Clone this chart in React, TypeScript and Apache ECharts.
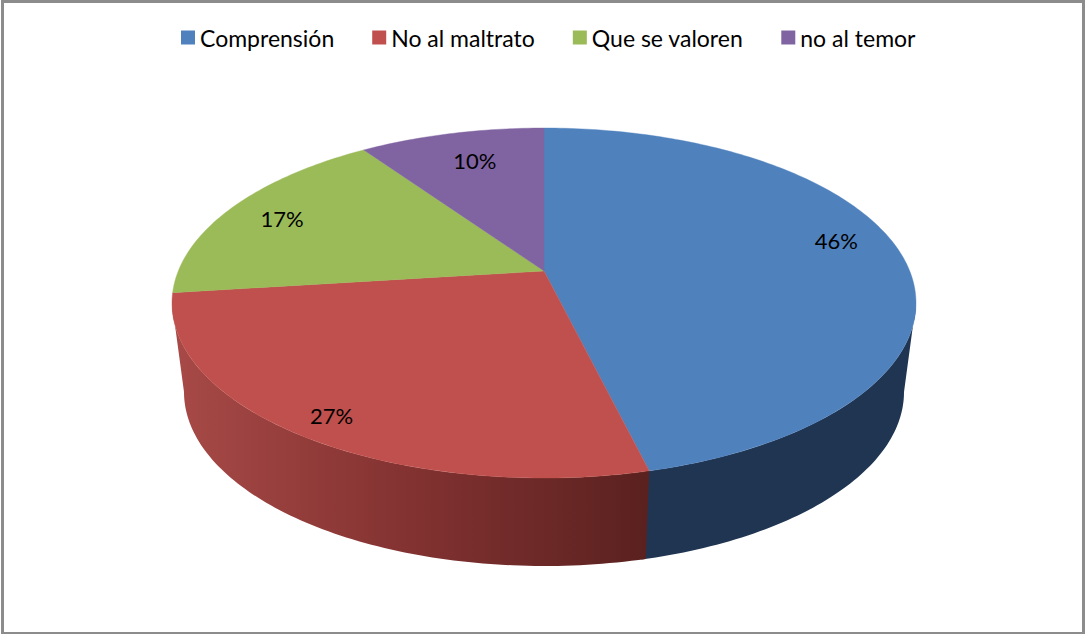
import React, { useEffect, useRef } from "react";
import * as echarts from "echarts";

const categories = ["Comprensión", "No al maltrato", "Que se valoren", "no al temor"];
const percents = [46.2, 26.8, 17.4, 9.6];
const colors = ["#4F81BD", "#C0504D", "#9BBB59", "#8064A2"];

// Layout of the tilted disc (pixels of the 1085x634 page)
const TOP = { cx: 544, cy: 303, rx: 372, ry: 175 };
const BOTTOM = { cx: 544, cy: 392, rx: 360, ry: 174 };
const APEX_SHIFT = 0.183; // perspective: how far the disc centre sits up inside the ellipse
// label placement per slice: fraction of the radius, angle shift in degrees
const LABEL_RADIUS = [0.847, 0.894, 0.828, 0.775];
const LABEL_SHIFT = [-5.8, -0.4, -0.6, 1.2];

const wallFills = [
  "#1F3552",
  new echarts.graphic.LinearGradient(0, 0, 1, 0, [
    { offset: 0, color: "#A84A47" },
    { offset: 0.5, color: "#823231" },
    { offset: 1, color: "#5A211F" },
  ]),
];

const rad = (d: number) => (d * Math.PI) / 180;

function project(r: number, deg: number) {
  const x = r * Math.sin(rad(deg));
  const y = r * Math.cos(rad(deg));
  const a = APEX_SHIFT;
  const d = 1 + a * y;
  return [(x * Math.sqrt(1 - a * a)) / d, (y + a) / d];
}

function place(e: typeof TOP, p: number[]) {
  return [e.cx + e.rx * p[0], e.cy - e.ry * p[1]];
}

function arc(r: number, from: number, to: number) {
  const steps = Math.max(2, Math.ceil(Math.abs(to - from) / 1));
  const out: number[][] = [];
  for (let i = 0; i <= steps; i++) out.push(project(r, from + ((to - from) * i) / steps));
  return out;
}

const total = percents.reduce((a, b) => a + b, 0);
const starts = percents.map((_, i) => percents.slice(0, i).reduce((a, b) => a + b, 0));

function renderSlice(params: any, api: any) {
  const i = params.seriesIndex;
  const value = api.value(0);
  const start = api.value(1);
  const from = (start / total) * 360;
  const to = ((start + value) / total) * 360;
  const children: any[] = [];

  // visible side wall: only the front half of the rim
  const limit = (Math.acos(-APEX_SHIFT) * 180) / Math.PI;
  const wallFrom = Math.max(from, limit);
  const wallTo = Math.min(to + (i === 0 ? 0.6 : 0), 360 - limit);
  if (wallTo > wallFrom) {
    const rim = arc(1, wallFrom, wallTo);
    const pts = [...rim.map((p) => place(TOP, p)), ...rim.slice().reverse().map((p) => place(BOTTOM, p))];
    children.push({
      type: "polygon",
      shape: { points: pts },
      style: { fill: wallFills[i] },
      silent: true,
    });
  }

  // top face
  const top = [place(TOP, project(0, 0)), ...arc(1, from, to).map((p) => place(TOP, p))];
  children.push({
    type: "polygon",
    shape: { points: top },
    style: { fill: colors[i], stroke: colors[i], lineWidth: 0.4 },
    silent: true,
  });

  // percentage label
  const mid = (from + to) / 2 + LABEL_SHIFT[i];
  const lp = place(TOP, project(LABEL_RADIUS[i], mid));
  children.push({
    type: "text",
    x: lp[0],
    y: lp[1],
    z2: 10,
    style: {
      text: `${Math.round((value / total) * 100)}%`,
      fill: "#000000",
      font: '22px Lato, "Open Sans", sans-serif',
      align: "center",
      verticalAlign: "middle",
    },
    silent: true,
  });
  return { type: "group", children };
}

export default function App() {
  const ref = useRef<HTMLDivElement>(null);
  useEffect(() => {
    const chart = echarts.init(ref.current!, undefined, { renderer: "svg" });
    chart.setOption({
      animation: false,
      backgroundColor: "#FFFFFF",
      legend: {
        data: categories,
        left: 181,
        top: 26,
        padding: 0,
        itemWidth: 14,
        itemHeight: 14,
        itemGap: 38,
        icon: "rect",
        textStyle: { color: "#000000", fontFamily: "Lato, sans-serif", fontSize: 23, padding: [0, 0, 2, 0] },
        selectedMode: false,
      },
      graphic: [
        {
          type: "rect",
          shape: { x: 2.5, y: 1.5, width: 1081, height: 632 },
          style: { fill: "none", stroke: "#8C8C8C", lineWidth: 3 },
          silent: true,
          z: 100,
        },
      ],
      series: categories.map((name, i) => ({
        type: "custom",
        name,
        coordinateSystem: "none",
        itemStyle: { color: colors[i] },
        data: [[percents[i], starts[i]]],
        renderItem: renderSlice,
        silent: true,
        z: i === 0 ? 2 : 3,
      })),
    });
    return () => chart.dispose();
  }, []);
  return <div ref={ref} style={{ position: "absolute", left: 0, top: 0, width: 1085, height: 634 }} />;
}
